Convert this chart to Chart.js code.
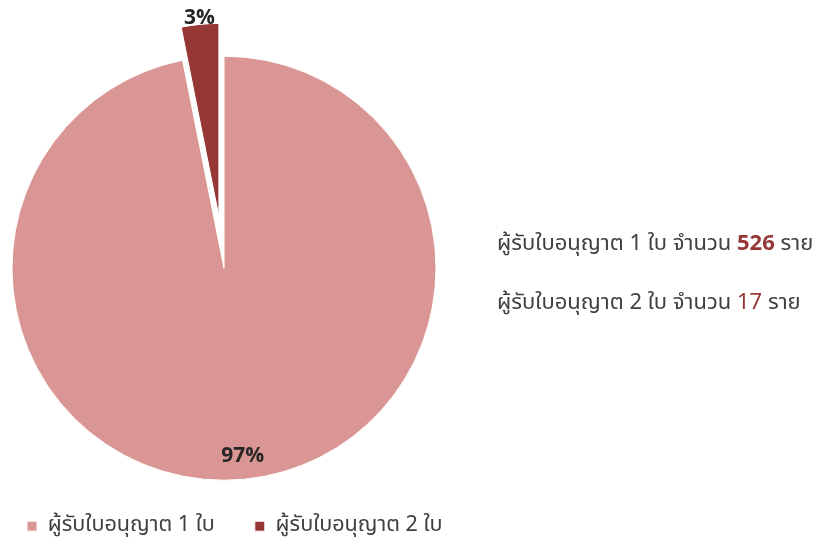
<!DOCTYPE html>
<html>
<head>
<meta charset="utf-8">
<script src="https://cdn.jsdelivr.net/npm/chart.js@4.4.1/dist/chart.umd.min.js"></script>
<style>
  html, body { margin: 0; padding: 0; background: #ffffff; }
  #wrap { position: relative; width: 819px; height: 542px; overflow: hidden; }
  #c { position: absolute; left: 0; top: 0; }
  .note { position: absolute; left: 497px; font-size: 22px; color: #404040; white-space: nowrap;
          font-family: 'Noto Sans Thai', 'Leelawadee UI', Tahoma, 'Noto Sans', sans-serif; line-height: 1; }
  .note .num { color: #953735; }
</style>
</head>
<body>
<div id="wrap">
  <canvas id="c" width="819" height="547"></canvas>
  <div class="note" id="note0" style="top:233px;"></div>
  <div class="note" id="note1" style="top:292px;"></div>
</div>
<script>
// ---- data ----
const categories = ['ผู้รับใบอนุญาต 1 ใบ', 'ผู้รับใบอนุญาต 2 ใบ'];
const values = [526, 17];
const noteWords = ['จำนวน', 'ราย'];

// ---- styles ----
const sliceColors = ['#D99694', '#953735'];
const FONT = "'Noto Sans Thai', 'Leelawadee UI', Tahoma, 'Noto Sans', sans-serif";
const EXPLODE_INDEX = 1;
const EXPLODE_SHIFT = 52;
const EXPLODE_RADIUS_RATIO = 193 / 212;
const LABEL_RADIUS = [0.9, 1.026];

// annotation text (HTML)
values.forEach((v, i) => {
  const el = document.getElementById('note' + i);
  el.innerHTML = categories[i] + ' ' + noteWords[0] + ' <span class="num" style="font-weight:' +
    (i === 0 ? 700 : 400) + '">' + v + '</span> ' + noteWords[1];
});

const explodePlugin = {
  id: 'explode',
  afterDatasetsUpdate(chart) {
    const meta = chart.getDatasetMeta(0);
    const arc = meta.data[EXPLODE_INDEX];
    if (!arc) return;
    const mid = (arc.startAngle + arc.endAngle) / 2;
    arc.x += Math.cos(mid) * EXPLODE_SHIFT;
    arc.y += Math.sin(mid) * EXPLODE_SHIFT;
    arc.outerRadius = arc.outerRadius * EXPLODE_RADIUS_RATIO;
  }
};

const pctPlugin = {
  id: 'pct',
  afterDatasetsDraw(chart) {
    const meta = chart.getDatasetMeta(0);
    const data = chart.data.datasets[0].data;
    const total = data.reduce((a, b) => a + b, 0);
    const ctx = chart.ctx;
    ctx.save();
    ctx.font = 'bold 21px ' + FONT;
    ctx.fillStyle = '#262626';
    ctx.textAlign = 'center';
    ctx.textBaseline = 'middle';
    meta.data.forEach((arc, i) => {
      const mid = (arc.startAngle + arc.endAngle) / 2;
      const r = arc.outerRadius * LABEL_RADIUS[i];
      const x = arc.x + Math.cos(mid) * r;
      const y = arc.y + Math.sin(mid) * r;
      ctx.fillText(Math.round(data[i] / total * 100) + '%', x, y);
    });
    ctx.restore();
  }
};

new Chart(document.getElementById('c'), {
  type: 'pie',
  data: {
    labels: categories,
    datasets: [{
      data: values,
      backgroundColor: sliceColors,
      borderColor: '#ffffff',
      borderWidth: 1,
      clip: false
    }]
  },
  options: {
    responsive: false,
    animation: false,
    events: [],
    radius: 212,
    layout: { padding: { left: -13, top: 61, right: 0, bottom: 0 } },
    plugins: {
      tooltip: { enabled: false },
      title: {
        display: true,
        position: 'right',
        text: '',
        fullSize: false,
        font: { size: 10, lineHeight: 1 },
        padding: { top: 361, bottom: 0 }
      },
      legend: {
        position: 'bottom',
        align: 'start',
        labels: {
          boxWidth: 10,
          boxHeight: 10,
          padding: 40,
          color: '#404040',
          font: { size: 21.6, family: FONT }
        }
      }
    }
  },
  plugins: [explodePlugin, pctPlugin]
});
</script>
</body>
</html>
